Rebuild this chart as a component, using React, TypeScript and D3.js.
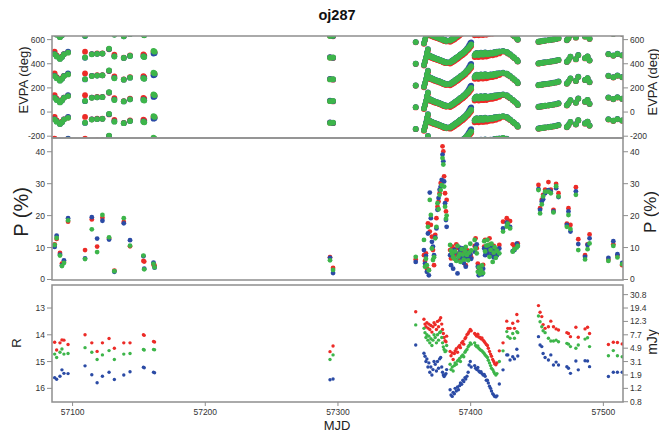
import * as d3 from 'd3'

const FONT = "'Liberation Sans', Arial, Helvetica, sans-serif"
const W = 659
const H = 432
const LEFT = 52
const RIGHT = 623
const EVPA_BOX = { top: 36, bottom: 138 }
const POL_BOX = { top: 138, bottom: 280 }
const MAG_BOX = { top: 285, bottom: 402 }
const FRAME = '#8e8e8e'
const TICK_TEXT = '#333333'
const RED = '#ec2b27'
const GREEN = '#3db54a'
const BLUE = '#2b4ba5'

// epochs (MJD), grouped by observing run
const mjd = [
  57086.5, 57088.0, 57090.5, 57092.0, 57093.5, 57096.6, 57109.4, 57114.5, 57118.5, 57122.5, 57127.5, 57131.5, 57138.6, 57143.3, 57153.4, 57154.0, 57161.0, 57161.8,
  57294.0, 57296.3,
  57358.6, 57364.8, 57365.6, 57366.3, 57367.0, 57367.8, 57368.5, 57369.2, 57370.0, 57370.8, 57371.6, 57372.4, 57373.3, 57374.2, 57375.0, 57375.8, 57376.6, 57377.4, 57378.2, 57378.8, 57379.4, 57380.0, 57380.7, 57381.4, 57381.9,
  57384.5, 57385.2, 57386.1, 57386.8, 57387.7, 57388.3, 57389.2, 57390.1, 57390.8, 57391.7, 57392.3, 57393.2, 57394.1, 57394.8, 57395.7, 57396.3, 57397.2, 57398.1, 57398.8, 57399.7, 57400.4,
  57403.0, 57403.7, 57404.6, 57405.4, 57406.1, 57407.0, 57407.8, 57408.5, 57409.4, 57410.2, 57410.9, 57411.8,
  57412.6, 57413.3, 57414.2, 57415.0, 57415.7, 57416.6, 57417.4, 57418.1, 57419.0, 57419.8, 57421.6,
  57424.4, 57427.2, 57428.0, 57429.7, 57431.7, 57433.0, 57434.8, 57435.5,
  57451.1, 57452.3, 57453.6, 57454.6, 57456.1, 57458.6, 57460.4, 57462.4, 57464.4, 57466.2,
  57472.5, 57473.7, 57475.2, 57479.3, 57481.1, 57486.2, 57488.1, 57489.6,
  57503.8, 57507.5, 57510.6, 57514.2,
]

// polarisation angle (deg), one value per epoch; plotted with +-180 deg copies
const evpaRed = [
  -40, -70, -95, -80, -60, -45, -40, -60, -55, -55, -20, -65, -90, -70, -62, -70, -40, -45,
  -88, -92,
  38, 25, 55, 85, 120, 150, 100, 98, 92, 90, 85, 82, 78, 75, 72, 70, 65, 62, 60, 56, 52, 50, 48, 46, 45,
  42, 48, 52, 58, 62, 70, 75, 82, 88, 95, 102, 108, 115, 122, 130, 138, 148, 156, 165, 178, 188,
  95, 100, 112, 98, 95, 108, 110, 100, 98, 105, 115, 100,
  105, 110, 108, 115, 112, 110, 118, 120, 116, 124, 126,
  140, 134, 126, 114, 98, 85, 70, 58,
  41, 44, 46, 48, 50, 54, 57, 60, 64, 70,
  54, 70, 95, 76, 110, 84, 98, 66,
  118, 106, 120, 108,
]
const evpaGreen = [
  -62, -80, -100, -85, -62, -48, -88, -62, -58, -56, -15, -80, -92, -75, -80, -85, -33, -40,
  -90, -88,
  40, 30, 60, 90, 130, 160, 110, 105, 100, 96, 92, 88, 85, 81, 78, 75, 71, 68, 64, 62, 58, 56, 53, 51, 50,
  52, 58, 63, 70, 74, 82, 88, 95, 100, 108, 115, 120, 128, 135, 142, 150, 160, 168, 178, 190, 200,
  110, 122, 128, 118, 112, 125, 130, 120, 115, 126, 132, 122,
  118, 125, 122, 130, 128, 124, 132, 135, 130, 138, 140,
  145, 138, 130, 118, 100, 88, 72, 60,
  43, 45, 47, 50, 52, 55, 58, 62, 66, 72,
  56, 72, 98, 78, 112, 86, 100, 68,
  120, 108, 122, 110,
]
const evpaBlue = [
  -60, -78, -98, -85, -60, -40, -90, -60, -58, -56, -18, -78, -92, -75, -78, -82, -55, -52,
  -85, -90,
  40, 32, 62, 92, 132, 162, 112, 107, 102, 98, 94, 90, 87, 83, 80, 77, 73, 70, 66, 64, 60, 58, 55, 53, 52,
  54, 60, 65, 72, 76, 84, 90, 97, 102, 110, 117, 122, 130, 137, 144, 152, 165, 178, 192, 210, 218,
  112, 124, 130, 120, 114, 127, 132, 122, 117, 128, 134, 124,
  120, 127, 124, 132, 130, 126, 134, 137, 132, 140, 142,
  146, 139, 131, 119, 101, 89, 73, 61,
  44, 46, 48, 51, 53, 56, 59, 63, 67, 73,
  57, 73, 99, 79, 113, 87, 101, 69,
  121, 109, 123, 111,
]

// polarisation degree (%)
const polRed = [
  11.0, 12.7, 8.3, 5.0, 5.5, 18.1, 9.2, 18.8, 10.3, 19.3, 12.8, 2.8, 18.0, 10.4, 5.8, 5.6, 4.6, 4.4,
  7.0, 3.6,
  6.3, 7.6, 5.8, 8.2, 3.4, 17.6, 3.0, 15.0, 17.1, 13.4, 9.2, 4.5, 14.0, 19.2, 22.8, 24.4, 27.0, 30.2, 30.4, 41.7, 40.1, 32.3, 27.0, 21.3, 24.9,
  9.2, 6.6, 10.3, 8.8, 9.5, 7.4, 11.0, 8.0, 9.8, 6.2, 8.6, 9.4, 7.2, 9.0, 8.2, 4.5, 9.2, 7.6, 8.8, 7.9, 7.0,
  10.5, 12.9, 9.8, 5.0, 3.5, 2.8, 4.0, 3.0, 4.6, 10.3, 12.4, 9.0,
  10.3, 9.0, 12.9, 11.0, 9.7, 8.0, 10.5, 7.2, 9.5, 8.5, 10.8,
  18.1, 19.2, 18.5, 18.3, 11.0, 10.3, 10.8, 11.3,
  29.6, 22.3, 25.0, 26.5, 28.1, 30.5, 28.1, 21.8, 29.9, 27.0,
  17.5, 22.3, 17.1, 28.9, 12.6, 7.6, 11.0, 14.1,
  6.2, 11.0, 7.4, 4.5,
]
const polGreen = [
  10.8, 13.0, 7.5, 4.2, 5.2, 18.5, 6.4, 15.7, 8.6, 20.2, 13.2, 2.6, 19.2, 10.6, 7.5, 3.2, 4.9, 3.8,
  6.0, 3.0,
  7.1, 12.4, 4.0, 6.5, 4.5, 16.5, 2.9, 24.9, 20.2, 9.7, 6.1, 7.0, 12.9, 16.5, 23.9, 22.0, 26.5, 28.0, 29.5, 38.0, 36.0, 29.1, 22.8, 19.0, 20.0,
  10.8, 9.0, 8.1, 7.0, 6.5, 8.8, 5.8, 10.5, 7.2, 8.0, 5.5, 9.5, 7.8, 6.2, 8.9, 10.2, 7.7, 6.0, 8.4, 11.2, 9.1,
  12.4, 9.7, 8.2, 2.4, 3.8, 1.8, 2.9, 4.4, 2.0, 12.0, 8.8, 10.6,
  12.4, 10.8, 7.1, 9.3, 11.2, 5.5, 8.4, 10.1, 6.8, 9.0, 8.2,
  15.0, 16.6, 17.5, 16.0, 8.7, 9.5, 10.0, 10.5,
  28.0, 20.7, 23.5, 26.0, 27.5, 27.5, 27.0, 21.0, 29.2, 26.0,
  16.5, 20.2, 15.8, 26.5, 9.2, 6.3, 9.5, 11.3,
  5.8, 10.5, 6.9, 4.8,
]
const polBlue = [
  10.2, 13.7, 7.8, 4.4, 6.0, 19.2, 6.6, 19.5, 12.8, 18.4, 12.5, 2.4, 17.6, 12.3, 7.3, 3.4, 5.3, 3.7,
  6.8, 2.0,
  5.5, 9.2, 5.0, 7.4, 2.4, 14.4, 1.3, 27.2, 19.2, 11.8, 10.3, 7.6, 13.2, 16.0, 21.8, 25.5, 28.1, 29.1, 31.2, 39.1, 37.0, 30.7, 23.9, 18.6, 16.5,
  7.6, 4.5, 8.0, 3.4, 9.3, 8.6, 6.0, 1.9, 7.5, 10.0, 9.0, 6.8, 9.7, 5.2, 7.0, 4.0, 8.5, 6.6, 8.3, 7.9, 6.5,
  8.7, 10.3, 11.0, 4.0, 1.3, 3.1, 2.2, 1.6, 3.4, 9.7, 7.6, 8.9,
  8.2, 9.7, 10.4, 7.5, 8.8, 10.0, 6.9, 9.4, 8.0, 7.6, 9.7,
  16.0, 17.8, 17.0, 16.5, 8.9, 9.2, 11.2, 10.5,
  28.3, 21.8, 24.4, 25.1, 27.0, 28.0, 27.5, 21.3, 28.6, 25.8,
  17.1, 21.3, 15.0, 27.6, 11.1, 7.1, 10.8, 12.9,
  6.8, 12.0, 7.9, 5.2,
]

// R magnitude
const magRed = [
  14.28, 14.57, 14.30, 14.19, 14.20, 14.36, 14.00, 14.30, 14.62, 14.30, 14.14, 14.50, 14.30, 14.30, 14.00, 14.02, 14.25, 14.27,
  14.63, 14.42,
  13.14, 13.42, 13.60, 13.70, 13.55, 13.75, 13.60, 13.80, 13.65, 13.90, 13.70, 13.55, 13.62, 13.80, 13.50, 13.70, 13.45, 13.36, 13.60, 13.80, 13.95, 14.10, 14.22, 14.26, 14.05,
  14.62, 14.78, 14.68, 14.92, 14.70, 14.60, 14.52, 14.65, 14.45, 14.40, 14.48, 14.30, 14.25, 14.35, 14.15, 14.10, 14.00, 13.95, 13.88, 13.80, 13.85,
  13.95, 14.00, 14.05, 13.98, 14.08, 14.10, 14.15, 14.12, 14.20, 14.25, 14.30, 14.36,
  14.40, 14.50, 14.62, 14.72, 14.80, 14.92, 15.00, 15.08, 15.12, 15.05, 14.60,
  14.30, 13.49, 13.76, 13.76, 13.57, 13.76, 13.24, 13.49,
  12.91, 13.16, 13.32, 13.62, 13.76, 13.70, 13.49, 13.70, 13.78, 13.82,
  13.92, 13.95, 14.07, 13.72, 14.09, 13.78, 13.72, 13.95,
  14.36, 14.28, 14.29, 14.34,
]
const magGreen = [
  14.72, 14.85, 14.65, 14.53, 14.72, 14.70, 14.48, 14.65, 14.92, 14.75, 14.59, 14.92, 14.72, 14.70, 14.55, 14.57, 14.55, 14.56,
  14.92, 14.75,
  13.63, 13.76, 13.92, 14.10, 14.00, 14.20, 14.05, 14.30, 14.15, 14.40, 14.20, 14.00, 14.10, 14.30, 14.00, 14.20, 13.92, 13.88, 14.10, 14.30, 14.45, 14.55, 14.63, 14.60, 14.40,
  15.10, 15.30, 15.20, 15.35, 15.15, 15.05, 15.10, 14.98, 14.95, 14.88, 15.00, 14.80, 14.75, 14.82, 14.65, 14.60, 14.55, 14.45, 14.40, 14.30, 14.35,
  14.30, 14.40, 14.45, 14.42, 14.50, 14.55, 14.58, 14.60, 14.65, 14.70, 14.75, 14.80,
  14.85, 14.95, 15.05, 15.15, 15.25, 15.30, 15.38, 15.45, 15.50, 15.45, 15.00,
  14.60, 13.88, 14.07, 14.13, 13.95, 14.13, 13.88, 13.92,
  13.30, 13.51, 13.70, 13.85, 13.92, 14.13, 14.23, 14.23, 14.20, 14.26,
  14.32, 14.35, 14.44, 14.50, 14.38, 14.16, 14.11, 14.44,
  14.78, 14.59, 14.78, 14.82,
]
const magBlue = [
  15.60, 15.66, 15.55, 15.31, 15.44, 15.45, 15.16, 15.49, 15.79, 15.55, 15.40, 15.67, 15.50, 15.38, 15.21, 15.23, 15.40, 15.42,
  15.68, 15.65,
  14.38, 14.69, 14.80, 15.00, 14.90, 15.20, 15.05, 15.40, 15.20, 15.50, 15.30, 15.00, 15.10, 15.35, 15.00, 15.25, 14.90, 14.85, 15.20, 15.40, 15.50, 15.56, 15.50, 15.45, 15.30,
  16.05, 16.25, 16.30, 16.15, 16.20, 16.00, 16.10, 15.95, 16.05, 15.90, 15.80, 15.85, 15.70, 15.75, 15.60, 15.65, 15.55, 15.40, 15.13, 15.00, 15.20,
  15.15, 15.25, 15.30, 15.22, 15.35, 15.40, 15.38, 15.45, 15.50, 15.48, 15.55, 15.70,
  15.70, 15.80, 15.92, 16.00, 16.10, 16.20, 16.25, 16.30, 16.32, 16.28, 15.84,
  15.31, 14.75, 14.75, 14.94, 14.82, 14.90, 14.54, 14.79,
  14.07, 14.38, 14.44, 14.70, 14.85, 14.94, 14.75, 15.13, 15.02, 15.13,
  15.19, 15.25, 15.44, 14.98, 15.31, 14.97, 14.98, 15.19,
  15.56, 15.40, 15.40, 15.40,
]

const mjdTicks = [57100, 57200, 57300, 57400, 57500]
const evpaTicks = [600, 400, 200, 0, -200]
const polTicks = [40, 30, 20, 10, 0]
const magTicks = [13, 14, 15, 16]
const fluxTickMags = [12.5, 13, 13.5, 14, 14.5, 15, 15.5, 16, 16.5]
const fluxTickLabels = ['30.8', '19.4', '12.3', '7.7', '4.9', '3.1', '1.9', '1.2', '0.8']

const x = d3.scaleLinear().domain([57084.5, 57514.8]).range([LEFT, RIGHT])
const yEvpa = d3.scaleLinear().domain([-215, 630]).range([EVPA_BOX.bottom, EVPA_BOX.top])
const yPol = d3.scaleLinear().domain([0, 44.3]).range([279.5, POL_BOX.top])
const yMag = d3.scaleLinear().domain([12.14, 16.51]).range([MAG_BOX.top, MAG_BOX.bottom])

// drawing order: red underneath, green on top
const series = [
  { color: RED, evpa: evpaRed, pol: polRed, mag: magRed },
  { color: BLUE, evpa: evpaBlue, pol: polBlue, mag: magBlue },
  { color: GREEN, evpa: evpaGreen, pol: polGreen, mag: magGreen },
]
const wraps = d3.range(-2, 6).map((k) => k * 180)

function Frame({ top, bottom }: { top: number; bottom: number }) {
  return (
    <rect x={LEFT} y={top} width={RIGHT - LEFT} height={bottom - top}
      fill="none" stroke={FRAME} strokeWidth={1.5} />
  )
}

function SideTicks({ pos, labels, side }: { pos: number[]; labels: string[]; side: 'left' | 'right' }) {
  const x0 = side === 'left' ? LEFT : RIGHT
  const dir = side === 'left' ? -1 : 1
  return (
    <g>
      {pos.map((p, i) => (
        <g key={i}>
          <line x1={x0} x2={x0 + dir * 5} y1={p} y2={p} stroke={FRAME} strokeWidth={1} />
          <text x={x0 + dir * 7} y={p} dy="0.35em" fontSize={8.5} fill={TICK_TEXT}
            textAnchor={side === 'left' ? 'end' : 'start'}>{labels[i]}</text>
        </g>
      ))}
    </g>
  )
}

function VLabel({ x0, y0, size, text }: { x0: number; y0: number; size: number; text: string }) {
  return (
    <text transform={`translate(${x0},${y0}) rotate(-90)`} textAnchor="middle"
      fontSize={size} fill="#222">{text}</text>
  )
}

export default function App() {
  const clipFor = (id: string, top: number, bottom: number) => (
    <clipPath id={id}>
      <rect x={LEFT} y={top} width={RIGHT - LEFT} height={bottom - top} />
    </clipPath>
  )
  return (
    <svg width={W} height={H} fontFamily={FONT}
      style={{ position: 'absolute', left: 0, top: 0, background: '#fff' }}>
      <defs>
        {clipFor('clip-evpa', EVPA_BOX.top, EVPA_BOX.bottom)}
        {clipFor('clip-pol', POL_BOX.top, POL_BOX.bottom)}
        {clipFor('clip-mag', MAG_BOX.top, MAG_BOX.bottom)}
      </defs>

      <text x={337} y={20} textAnchor="middle" fontSize={14.5} fontWeight="bold" fill="#111">oj287</text>

      {/* EVPA panel */}
      <g clipPath="url(#clip-evpa)">
        {series.map((s) => (
          <g key={s.color} fill={s.color}>
            {mjd.map((t, i) => wraps.map((w) => {
              const v = s.evpa[i] + w
              if (v < -240 || v > 660) return null
              return <circle key={`${i}-${w}`} cx={x(t)} cy={yEvpa(v)} r={2.9} />
            }))}
          </g>
        ))}
      </g>

      {/* polarisation degree */}
      <g clipPath="url(#clip-pol)">
        {series.map((s) => (
          <g key={s.color} fill={s.color}>
            {mjd.map((t, i) => <circle key={i} cx={x(t)} cy={yPol(s.pol[i])} r={2.4} />)}
          </g>
        ))}
      </g>

      {/* R magnitude */}
      <g clipPath="url(#clip-mag)">
        {series.map((s) => (
          <g key={s.color} fill={s.color}>
            {mjd.map((t, i) => <circle key={i} cx={x(t)} cy={yMag(s.mag[i])} r={1.7} />)}
          </g>
        ))}
      </g>

      <Frame top={EVPA_BOX.top} bottom={EVPA_BOX.bottom} />
      <Frame top={POL_BOX.top} bottom={POL_BOX.bottom} />
      <Frame top={MAG_BOX.top} bottom={MAG_BOX.bottom} />

      <SideTicks side="left" pos={evpaTicks.map(yEvpa)} labels={evpaTicks.map(String)} />
      <SideTicks side="right" pos={evpaTicks.map(yEvpa)} labels={evpaTicks.map(String)} />
      <SideTicks side="left" pos={polTicks.map(yPol)} labels={polTicks.map(String)} />
      <SideTicks side="right" pos={polTicks.map(yPol)} labels={polTicks.map(String)} />
      <SideTicks side="left" pos={magTicks.map(yMag)} labels={magTicks.map(String)} />
      <SideTicks side="right" pos={fluxTickMags.map(yMag)} labels={fluxTickLabels} />

      {/* MJD axis */}
      <g>
        {mjdTicks.map((t) => (
          <g key={t}>
            <line x1={x(t)} x2={x(t)} y1={MAG_BOX.bottom} y2={MAG_BOX.bottom + 4} stroke={FRAME} />
            <text x={x(t)} y={415} textAnchor="middle" fontSize={8.5} fill={TICK_TEXT}>{t}</text>
          </g>
        ))}
      </g>
      <text x={337} y={430} textAnchor="middle" fontSize={13} fill="#222">MJD</text>

      <VLabel x0={28} y0={80} size={13} text="EVPA (deg)" />
      <VLabel x0={657} y0={82} size={13} text="EVPA (deg)" />
      <VLabel x0={28} y0={212} size={20} text="P (%)" />
      <VLabel x0={656} y0={212} size={17} text="P (%)" />
      <VLabel x0={21} y0={343} size={13} text="R" />
      <VLabel x0={657} y0={342} size={14} text="mJy" />
    </svg>
  )
}
